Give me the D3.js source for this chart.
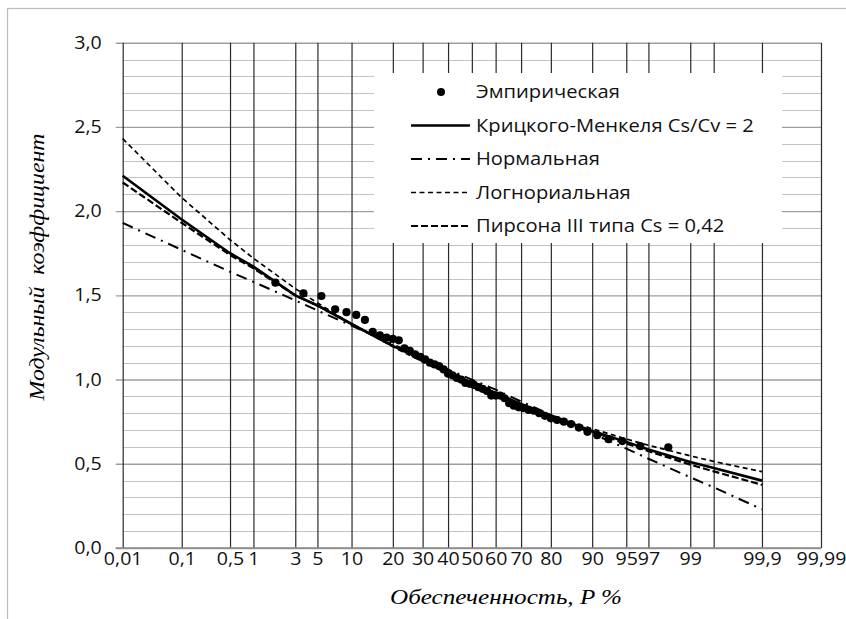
<!DOCTYPE html>
<html>
<head>
<meta charset="utf-8">
<script src="https://cdn.jsdelivr.net/npm/d3@7"></script>
<style>
  body { margin: 0; background: #fff; }
  svg { display: block; }
</style>
</head>
<body>
<script>
const [W, H] = [846, 619];
const PLOT = { left: 122.7, right: 821, top: 42.7, bottom: 548 };
const SANS = 'Open Sans, sans-serif';
const SERIF = 'Liberation Serif, Times New Roman, serif';
const STRETCH = 1.12; // labels in the original are drawn a bit wider

// x axis: probability (percent), normal probability paper
const TICK_P = [0.01, 0.1, 0.5, 1, 3, 5, 10, 20, 30, 40, 50, 60, 70, 80, 90, 95, 97, 99, 99.5, 99.9, 99.99];
const TICK_LABELS = ['0,01', '0,1', '0,5', '1', '3', '5', '10', '20', '30', '40', '50', '60', '70', '80', '90', '95', '97', '99', '', '99,9', '99,99'];

// curve points (P %)
const CURVE_P = [0.01, 0.1, 0.5, 1, 3, 5, 10, 20, 30, 40, 50, 60, 70, 80, 90, 95, 97, 99, 99.5, 99.9];
const KRITSKY = [2.21, 1.95, 1.75, 1.67, 1.50, 1.44, 1.33, 1.20, 1.12, 1.04, 0.98, 0.92, 0.855, 0.785, 0.695, 0.63, 0.585, 0.51, 0.475, 0.40];
const NORMAL = [1.93, 1.77, 1.64, 1.58, 1.47, 1.41, 1.32, 1.21, 1.13, 1.06, 1.0, 0.94, 0.87, 0.79, 0.68, 0.59, 0.53, 0.42, 0.36, 0.23];
const LOGNORMAL = [2.43, 2.08, 1.83, 1.72, 1.54, 1.455, 1.33, 1.195, 1.105, 1.035, 0.97, 0.91, 0.853, 0.79, 0.708, 0.647, 0.61, 0.547, 0.514, 0.453];
const PEARSON = [2.17, 1.93, 1.74, 1.66, 1.50, 1.44, 1.33, 1.20, 1.12, 1.05, 0.98, 0.92, 0.85, 0.785, 0.69, 0.62, 0.575, 0.495, 0.455, 0.375];

// empirical points
const EMP_P = [1.82, 3.64, 5.45, 7.27, 9.09, 10.91, 12.73, 14.55, 16.36, 18.18, 20.0, 21.82, 23.64, 25.45, 27.27, 29.09, 30.91, 32.73,
  34.55, 36.36, 38.18, 40.0, 41.82, 43.64, 45.45, 47.27, 49.09, 50.91, 52.73, 54.55, 56.36, 58.18, 60.0, 61.82, 63.64, 65.45,
  67.27, 69.09, 70.91, 72.73, 74.55, 76.36, 78.18, 80.0, 81.82, 83.64, 85.45, 87.27, 89.09, 90.91, 92.73, 94.55, 96.36, 98.18];
const EMP_K = [1.575, 1.512, 1.496, 1.417, 1.40, 1.384, 1.354, 1.284, 1.263, 1.249, 1.241, 1.233, 1.185, 1.17, 1.15, 1.135, 1.12, 1.10,
  1.09, 1.08, 1.06, 1.035, 1.025, 1.01, 1.0, 0.98, 0.975, 0.968, 0.955, 0.945, 0.932, 0.905, 0.905, 0.905, 0.889, 0.86,
  0.845, 0.835, 0.83, 0.82, 0.815, 0.80, 0.785, 0.77, 0.76, 0.75, 0.736, 0.715, 0.69, 0.67, 0.646, 0.635, 0.605, 0.598];

const LEGEND = [
  { name: 'Эмпирическая', type: 'dot' },
  { name: 'Крицкого-Менкеля Cs/Cv = 2', type: 'line', width: 2.6, dash: null },
  { name: 'Нормальная', type: 'line', width: 2, dash: '11,6,2,6' },
  { name: 'Логнориальная', type: 'line', width: 1.7, dash: '5,3.5' },
  { name: 'Пирсона III типа Cs = 0,42', type: 'line', width: 2.2, dash: '7,3' }
];

// inverse normal CDF (Acklam)
function probit(p) {
  const a = [-39.69683028665376, 220.9460984245205, -275.9285104469687, 138.3577518672690, -30.66479806614716, 2.506628277459239];
  const b = [-54.47609879822406, 161.5858368580409, -155.6989798598866, 66.80131188771972, -13.28068155288572];
  const c = [-0.007784894002430293, -0.3223964580411365, -2.400758277161838, -2.549732539343734, 4.374664141464968, 2.938163982698783];
  const d = [0.007784695709041462, 0.3224671290700398, 2.445134137142996, 3.754408661907416];
  const pl = 0.02425;
  let q, r;
  if (p < pl) {
    q = Math.sqrt(-2 * Math.log(p));
    return (((((c[0]*q+c[1])*q+c[2])*q+c[3])*q+c[4])*q+c[5]) / ((((d[0]*q+d[1])*q+d[2])*q+d[3])*q+1);
  } else if (p <= 1 - pl) {
    q = p - 0.5; r = q * q;
    return (((((a[0]*r+a[1])*r+a[2])*r+a[3])*r+a[4])*r+a[5])*q / (((((b[0]*r+b[1])*r+b[2])*r+b[3])*r+b[4])*r+1);
  }
  q = Math.sqrt(-2 * Math.log(1 - p));
  return -(((((c[0]*q+c[1])*q+c[2])*q+c[3])*q+c[4])*q+c[5]) / ((((d[0]*q+d[1])*q+d[2])*q+d[3])*q+1);
}
const z = p => probit(p / 100);

const xScale = d3.scaleLinear().domain([z(0.01), z(99.99)]).range([PLOT.left, PLOT.right]);
const yScale = d3.scaleLinear().domain([0, 3]).range([PLOT.bottom, PLOT.top]);
const X = p => xScale(z(p));

const ruFmt = d3.formatLocale({ decimal: ',', thousands: ' ', grouping: [3], currency: ['', ''] }).format('.1f');

const svg = d3.select('body').append('svg').attr('width', W).attr('height', H);
svg.append('rect').attr('width', W).attr('height', H).attr('fill', '#fff');

// outer frame
svg.append('rect')
  .attr('x', 7.5).attr('y', 8.5).attr('width', 900).attr('height', 700)
  .attr('fill', 'none').attr('stroke', '#bdbdbd').attr('stroke-width', 1.3);

// horizontal grid: minor every 0.1
const minor = d3.range(0, 31).map(i => i / 10).filter((v, i) => i % 5 !== 0);
svg.append('g').selectAll('line').data(minor).enter().append('line')
  .attr('x1', PLOT.left).attr('x2', PLOT.right)
  .attr('y1', d => Math.round(yScale(d)) + 0.5).attr('y2', d => Math.round(yScale(d)) + 0.5)
  .attr('stroke', '#c4c4c4').attr('stroke-width', 1.2);

// stretch a tick label horizontally around its anchor
function stretchText(sel, anchorX) {
  sel.each(function () {
    const t = d3.select(this);
    const tx = anchorX === 'x' ? +t.attr('x') || 0 : 0;
    t.attr('transform', `translate(${tx},0) scale(${STRETCH},1) translate(${-tx},0)`);
  });
}

// y axis with major gridlines
const yAxis = d3.axisLeft(yScale)
  .tickValues(d3.range(0, 3.01, 0.5))
  .tickSize(-(PLOT.right - PLOT.left + 7))
  .tickPadding(14)
  .tickFormat(ruFmt);
svg.append('g')
  .attr('transform', `translate(${PLOT.left - 7},0)`)
  .call(yAxis)
  .call(g => g.select('.domain').remove())
  .call(g => g.selectAll('.tick line').attr('stroke', '#9e9e9e').attr('stroke-width', 1.4))
  .call(g => g.selectAll('.tick text')
    .attr('font-family', SANS).attr('font-size', 17.5).attr('fill', '#111')
    .call(stretchText, 'x'));

// vertical grid + x labels
const xAxis = d3.axisBottom(xScale)
  .tickValues(TICK_P.map(z))
  .tickSize(-(PLOT.bottom - PLOT.top))
  .tickPadding(5)
  .tickFormat((d, i) => TICK_LABELS[i]);
svg.append('g')
  .attr('transform', `translate(0,${PLOT.bottom})`)
  .call(xAxis)
  .call(g => g.select('.domain').remove())
  .call(g => g.selectAll('.tick line').attr('stroke', '#2a2a2a').attr('stroke-width', 1.2))
  .call(g => g.selectAll('.tick text')
    .attr('font-family', SANS).attr('font-size', 17.5).attr('fill', '#111')
    .call(stretchText, 'x'));

// bottom axis line
svg.append('line')
  .attr('x1', PLOT.left - 7).attr('x2', PLOT.right)
  .attr('y1', PLOT.bottom).attr('y2', PLOT.bottom)
  .attr('stroke', '#8a8a8a').attr('stroke-width', 1.4);

// legend box
const LG = { x: 374, y: 73, w: 408, h: 170, rowY: 92, rowH: 33.5, sx0: 411, sx1: 470, tx: 476 };
svg.append('rect').attr('x', LG.x).attr('y', LG.y).attr('width', LG.w).attr('height', LG.h).attr('fill', '#fff');

// curves
const line = d3.line().x(d => X(d[0])).y(d => yScale(d[1]));
const curves = [
  { vals: KRITSKY, st: LEGEND[1] },
  { vals: NORMAL, st: LEGEND[2] },
  { vals: LOGNORMAL, st: LEGEND[3] },
  { vals: PEARSON, st: LEGEND[4] }
];
curves.forEach(c => {
  svg.append('path')
    .datum(CURVE_P.map((p, i) => [p, c.vals[i]]))
    .attr('d', line)
    .attr('fill', 'none')
    .attr('stroke', '#000')
    .attr('stroke-width', c.st.width)
    .attr('stroke-dasharray', c.st.dash);
});

// empirical points
svg.append('g').selectAll('circle')
  .data(EMP_P.map((p, i) => [p, EMP_K[i]]))
  .enter().append('circle')
  .attr('cx', d => X(d[0])).attr('cy', d => yScale(d[1]))
  .attr('r', 4.1).attr('fill', '#000');

// legend entries
const lg = svg.append('g');
LEGEND.forEach((e, i) => {
  const y = LG.rowY + i * LG.rowH;
  if (e.type === 'dot') {
    lg.append('circle').attr('cx', 441).attr('cy', y).attr('r', 4).attr('fill', '#000');
  } else {
    lg.append('line').attr('x1', LG.sx0).attr('x2', LG.sx1).attr('y1', y).attr('y2', y)
      .attr('stroke', '#000').attr('stroke-width', e.width).attr('stroke-dasharray', e.dash);
  }
  lg.append('text')
    .attr('transform', `translate(${LG.tx},${y}) scale(${STRETCH},1)`)
    .attr('dy', '0.35em')
    .attr('font-family', SANS).attr('font-size', 18).attr('fill', '#111')
    .text(e.name);
});

// axis titles
svg.append('text')
  .attr('transform', 'translate(44,267) rotate(-90)')
  .attr('text-anchor', 'middle')
  .attr('font-family', SERIF)
  .attr('font-style', 'italic').attr('font-size', 21)
  .attr('textLength', 267).attr('lengthAdjust', 'spacingAndGlyphs')
  .style('white-space', 'pre')
  .text('Модульный  коэффициент');

svg.append('text')
  .attr('x', 506).attr('y', 604)
  .attr('text-anchor', 'middle')
  .attr('font-family', SERIF)
  .attr('font-style', 'italic').attr('font-size', 21)
  .attr('textLength', 232).attr('lengthAdjust', 'spacingAndGlyphs')
  .text('Обеспеченность, P %');
</script>
</body>
</html>
